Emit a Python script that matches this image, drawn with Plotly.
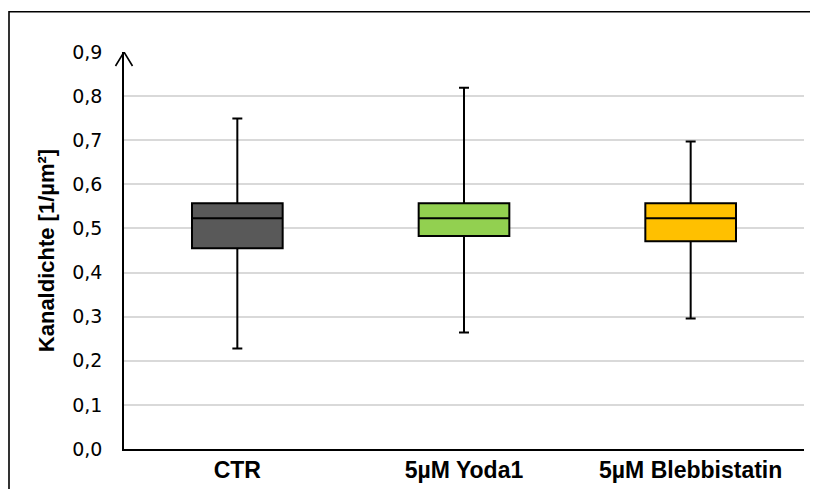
import plotly.graph_objects as go

categories = ["CTR", "5µM Yoda1", "5µM Blebbistatin"]
lower_whisker = [0.228, 0.264, 0.296]
q1_values = [0.455, 0.483, 0.471]
median_values = [0.523, 0.523, 0.523]
q3_values = [0.557, 0.557, 0.557]
upper_whisker = [0.749, 0.819, 0.697]
fill_colors = ["#595959", "#92D050", "#FFC000"]
y_ticks = [0.0, 0.1, 0.2, 0.3, 0.4, 0.5, 0.6, 0.7, 0.8, 0.9]

fig = go.Figure()
for i, cat in enumerate(categories):
    fig.add_trace(go.Box(
        x=[cat],
        q1=[q1_values[i]],
        median=[median_values[i]],
        q3=[q3_values[i]],
        lowerfence=[lower_whisker[i]],
        upperfence=[upper_whisker[i]],
        fillcolor=fill_colors[i],
        line=dict(color="black", width=2),
        whiskerwidth=0.11,
        width=0.4,
        boxpoints=False,
        showlegend=False,
        hoverinfo="skip",
    ))

# page body has an 8px margin, so the figure is placed at (8, 8)
OFF = 8
W, H = 818 - 2 * OFF, 497 - 2 * OFF
ml, mr, mt, mb = 124 - OFF, 14 - OFF, 52 - OFF, 46 - OFF
pw = W - ml - mr
ph = H - mt - mb

fx = (9 - OFF - ml) / pw
fy = (H - mb - (11.5 - OFF)) / ph

shapes = [
    # outer frame (left + top)
    dict(type="path", xref="paper", yref="paper",
         path=f"M {fx} {-(mb + 10) / ph} L {fx} {fy} L {(W + 10 - ml) / pw} {fy}",
         line=dict(color="black", width=1.6)),
    # arrowhead on y axis
    dict(type="path", xref="paper", yref="y", xsizemode="pixel", ysizemode="pixel",
         xanchor=0, yanchor=y_ticks[-1],
         path="M -8.5 -14 L 0 0 L 8.5 -14",
         line=dict(color="black", width=1.6)),
]

fig.update_layout(
    width=W, height=H,
    margin=dict(l=ml, r=mr, t=mt, b=mb),
    paper_bgcolor="white", plot_bgcolor="white",
    separators=", ",
    boxmode="overlay",
    shapes=shapes,
    font=dict(family="Liberation Sans, Arial, sans-serif", color="black"),
    xaxis=dict(
        type="category", categoryorder="array", categoryarray=categories,
        range=[-0.5, len(categories) - 0.5],
        showline=True, linecolor="black", linewidth=1.6,
        showgrid=False, ticks="",
        tickfont=dict(family="Liberation Sans, Arial, sans-serif", size=23, weight="bold"),
        ticklabelstandoff=0,
    ),
    yaxis=dict(
        range=[0, 0.9], tickvals=y_ticks, tickformat=".1f",
        showline=True, linecolor="black", linewidth=1.6,
        showgrid=True, gridcolor="#d9d9d9", gridwidth=1.5,
        zeroline=False, ticks="",
        tickfont=dict(family="DejaVu Sans, sans-serif", size=19),
        ticklabelstandoff=16,
        title=dict(text="Kanaldichte [1/µm²]", standoff=11,
                   font=dict(family="Liberation Sans, Arial, sans-serif", size=22, weight="bold")),
    ),
)

fig.write_html("out.html")
